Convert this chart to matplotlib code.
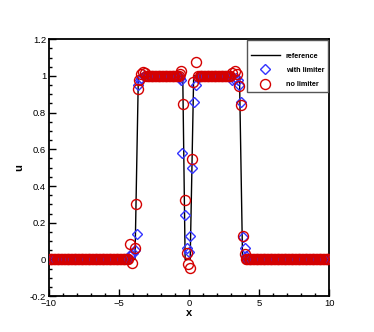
import numpy as np
import matplotlib
matplotlib.use('Agg')
import matplotlib.pyplot as plt
from matplotlib.ticker import MultipleLocator

plt.rcParams['font.family'] = ['Liberation Sans', 'DejaVu Sans']

# reference (exact) solution
ref_x = [-10, -3.86, -3.62, -0.45, -0.28, 0.08, 0.33, 3.60, 3.82, 10]
ref_y = [0, 0, 1, 1, 0, 0, 1, 1, 0, 0]

# flat parts of the numerical solutions (cell centres)
zero_left_x = np.arange(-9.95, -4.3, 0.1)
one_mid1_x = np.arange(-3.05, -0.7, 0.1)
one_mid2_x = np.arange(0.75, 3.0, 0.1)
zero_right_x = np.arange(4.05, 10.0, 0.1)

# points near the discontinuities, with limiter
lim_left_x = [-4.25, -4.12, -4.0, -3.86, -3.73, -3.64, -3.52, -3.4, -3.25, -3.12]
lim_left_y = [0.02, 0.03, 0.034, 0.05, 0.138, 0.95, 0.975, 0.99, 1.0, 1.0]
lim_mid_x = [-0.65, -0.55, -0.47, -0.29, -0.15, -0.03, 0.08, 0.2, 0.38, 0.52, 0.65]
lim_mid_y = [0.99, 0.975, 0.58, 0.24, 0.063, 0.04, 0.125, 0.50, 0.857, 0.95, 0.99]
lim_right_x = [3.08, 3.22, 3.35, 3.48, 3.6, 3.73, 3.87, 4.0, 4.1]
lim_right_y = [0.975, 0.985, 0.99, 0.98, 0.95, 0.86, 0.12, 0.06, 0.02]

# points near the discontinuities, no limiter
nol_left_x = [-4.19, -4.08, -3.88, -3.79, -3.64, -3.55, -3.45, -3.3, -3.15]
nol_left_y = [0.083, -0.022, 0.06, 0.30, 0.926, 0.975, 1.01, 1.02, 1.015]
nol_mid_x = [-0.65, -0.55, -0.45, -0.29, -0.14, -0.06, 0.07, 0.23, 0.30, 0.51, 0.65]
nol_mid_y = [1.01, 1.025, 0.847, 0.323, 0.034, -0.025, -0.048, 0.548, 0.968, 1.075, 1.0]
nol_right_x = [3.1, 3.3, 3.42, 3.55, 3.72, 3.85, 3.98]
nol_right_y = [1.015, 1.025, 1.01, 0.945, 0.84, 0.13, 0.03]


def assemble(left_x, left_y, mid_x, mid_y, right_x, right_y):
    xs = np.concatenate([zero_left_x, left_x, one_mid1_x, mid_x, one_mid2_x, right_x, zero_right_x])
    ys = np.concatenate([np.zeros(len(zero_left_x)), left_y, np.ones(len(one_mid1_x)), mid_y,
                         np.ones(len(one_mid2_x)), right_y, np.zeros(len(zero_right_x))])
    return xs, ys


lim_x, lim_y = assemble(lim_left_x, lim_left_y, lim_mid_x, lim_mid_y, lim_right_x, lim_right_y)
nol_x, nol_y = assemble(nol_left_x, nol_left_y, nol_mid_x, nol_mid_y, nol_right_x, nol_right_y)

fig = plt.figure(figsize=(3.74, 3.32), dpi=100)
ax = fig.add_axes([0.131, 0.108, 0.749, 0.774])

ax.plot(ref_x, ref_y, color='black', lw=1.0, label='reference', zorder=2)
ax.plot(lim_x, lim_y, ls='none', marker='D', ms=5.2, mfc='none', mec='#3333ff', mew=1.0,
        label='with limiter', zorder=3)
ax.plot(nol_x, nol_y, ls='none', marker='o', ms=7.2, mfc='none', mec='#d40000', mew=1.0,
        label='no limiter', zorder=4)

ax.set_xlim(-10, 10)
ax.set_ylim(-0.2, 1.2)
ax.xaxis.set_major_locator(MultipleLocator(5))
ax.xaxis.set_minor_locator(MultipleLocator(1))
ax.yaxis.set_minor_locator(MultipleLocator(0.05))
ax.set_yticks([-0.2, 0, 0.2, 0.4, 0.6, 0.8, 1, 1.2])
ax.set_yticklabels(['-0.2', '0', '0.2', '0.4', '0.6', '0.8', '1', '1.2'])
ax.tick_params(which='both', direction='in', top=False, right=False, labelsize=6.8, width=1.0)
ax.tick_params(which='major', length=5, pad=2)
ax.tick_params(which='minor', length=2.5)
for s in ax.spines.values():
    s.set_linewidth(1.3)

ax.set_xlabel('x', fontsize=8, fontweight='bold', labelpad=0)
ax.set_ylabel('u', fontsize=8, fontweight='bold', labelpad=4)

leg = ax.legend(loc='upper right', fontsize=5.2, handlelength=4.0, handletextpad=0.8,
                borderpad=0.6, labelspacing=1.0, borderaxespad=0.1, fancybox=False,
                framealpha=1, edgecolor='#555555', title=' ', title_fontsize=0.5)
leg.get_frame().set_linewidth(1.0)
for t in leg.get_texts():
    t.set_fontweight('bold')

fig.savefig('out.png', dpi=100)
